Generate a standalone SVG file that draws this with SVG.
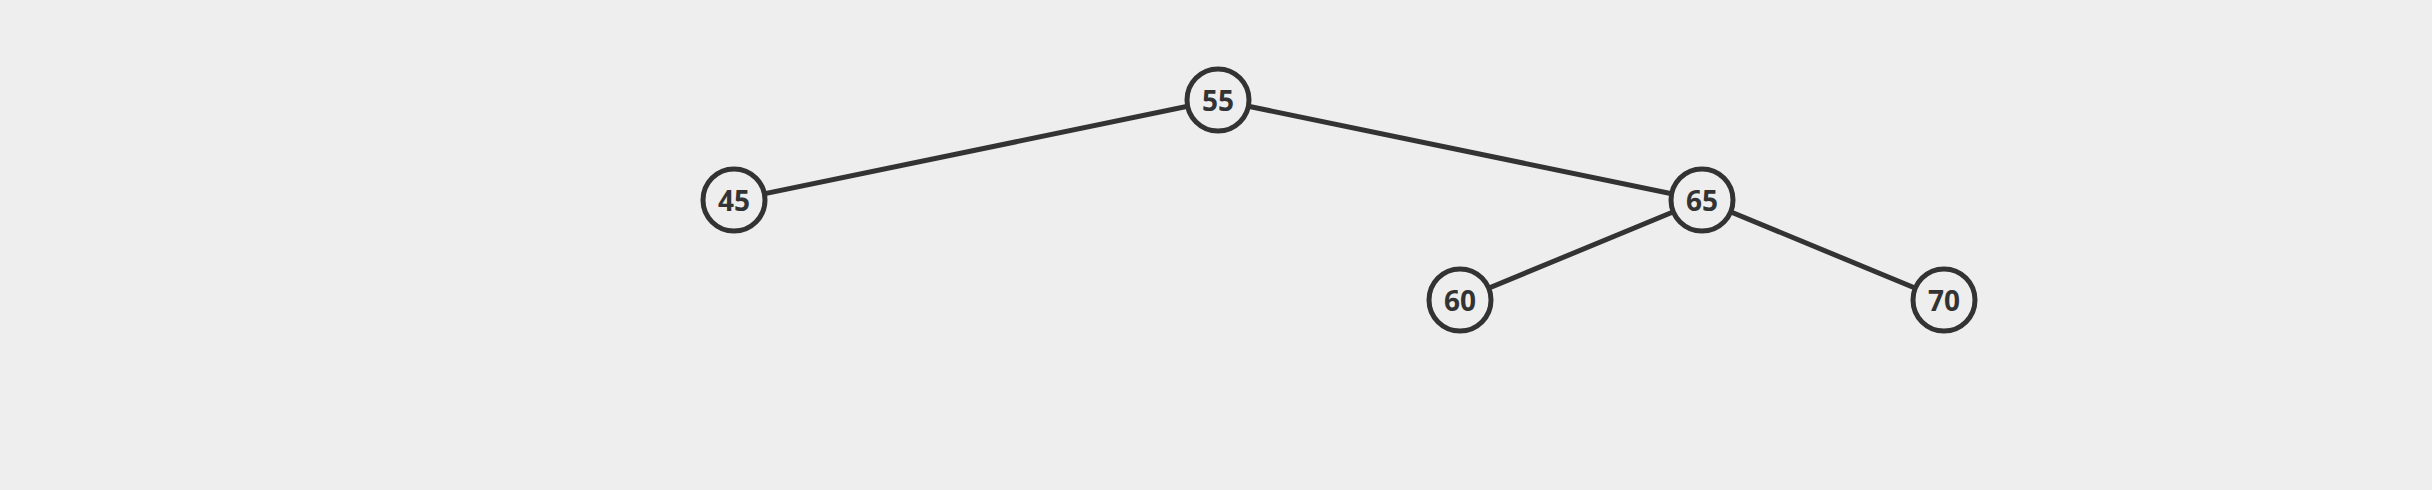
<svg xmlns="http://www.w3.org/2000/svg" width="2432" height="490" viewBox="0 0 2432 490">
<style>
.edge{stroke:#333;stroke-width:5;fill:none}
.node circle{fill:#eeeeee;stroke:#333;stroke-width:5}
.node text{font-family:"Open Sans","Noto Sans",sans-serif;font-weight:bold;font-size:28px;fill:#333;text-anchor:middle;dominant-baseline:central}
</style>
<rect width="2432" height="490" fill="#eeeeee"/>
<g id="connectors">
<line class="edge" x1="1218" y1="100" x2="734" y2="200"/>
<line class="edge" x1="1218" y1="100" x2="1702" y2="200"/>
<line class="edge" x1="1702" y1="200" x2="1460" y2="300"/>
<line class="edge" x1="1702" y1="200" x2="1944" y2="300"/>
</g>
<g id="n55" class="node"><circle cx="1218" cy="100" r="31"/><text x="1218" y="100">55</text></g>
<g id="n45" class="node"><circle cx="734" cy="200" r="31"/><text x="734" y="200">45</text></g>
<g id="n65" class="node"><circle cx="1702" cy="200" r="31"/><text x="1702" y="200">65</text></g>
<g id="n60" class="node"><circle cx="1460" cy="300" r="31"/><text x="1460" y="300">60</text></g>
<g id="n70" class="node"><circle cx="1944" cy="300" r="31"/><text x="1944" y="300">70</text></g>
</svg>
